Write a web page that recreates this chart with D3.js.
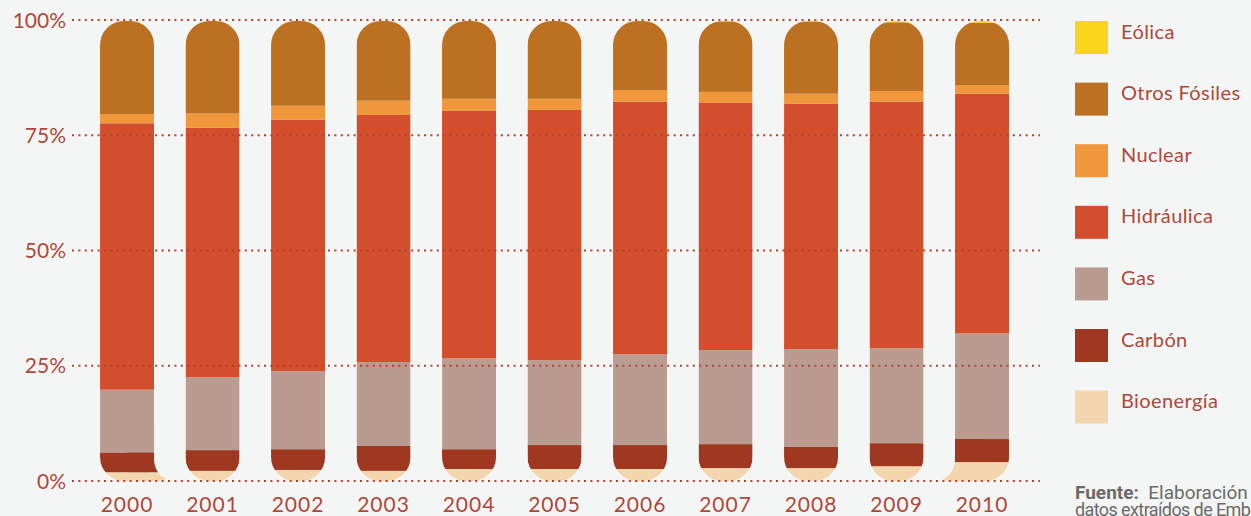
<!DOCTYPE html>
<html>
<head>
<meta charset="utf-8">
<script src="https://cdn.jsdelivr.net/npm/d3@7"></script>
<style>
  html, body { margin: 0; padding: 0; background: #f4f6f6; overflow: hidden; }
  svg { display: block; }
</style>
</head>
<body>
<svg id="chart" width="1251" height="516" viewBox="0 0 1251 516"></svg>
<script>
// --- data (shares of generation, %) ---
const years = ["2000", "2001", "2002", "2003", "2004", "2005", "2006", "2007", "2008", "2009", "2010"];
// stacking order: bottom -> top
const sources = ["Bioenergía", "Carbón", "Gas", "Hidráulica", "Nuclear", "Otros Fósiles", "Eólica"];
const bioenergia   = [1.9, 2.2, 2.4, 2.2, 2.6, 2.6, 2.6, 2.8, 2.8, 3.2, 4.1];
const carbon       = [4.3, 4.5, 4.5, 5.4, 4.3, 5.2, 5.2, 5.2, 4.6, 5.0, 5.0];
const gas          = [13.6, 15.8, 16.9, 18.2, 19.7, 18.4, 19.7, 20.4, 21.2, 20.6, 22.9];
const hidraulica   = [57.8, 54.1, 54.6, 53.6, 53.7, 54.3, 54.8, 53.6, 53.2, 53.5, 52.0];
const nuclear      = [2.0, 3.1, 3.0, 3.1, 2.6, 2.4, 2.5, 2.4, 2.2, 2.3, 1.9];
const otrosFosiles = [20.2, 20.1, 18.4, 17.3, 16.9, 16.9, 15.0, 15.3, 15.7, 14.9, 13.5];
const eolica       = [0.2, 0.2, 0.2, 0.2, 0.2, 0.2, 0.2, 0.3, 0.3, 0.5, 0.6];
const yTicks = [0, 25, 50, 75, 100];
const legendOrder = ["Eólica", "Otros Fósiles", "Nuclear", "Hidráulica", "Gas", "Carbón", "Bioenergía"];

const seriesValues = {
  "Bioenergía": bioenergia, "Carbón": carbon, "Gas": gas, "Hidráulica": hidraulica,
  "Nuclear": nuclear, "Otros Fósiles": otrosFosiles, "Eólica": eolica
};
const colors = {
  "Eólica": "#fbd51b", "Otros Fósiles": "#bc7122", "Nuclear": "#f0973b",
  "Hidráulica": "#d34e2d", "Gas": "#b99b90", "Carbón": "#9e3820", "Bioenergía": "#f4d6ae"
};

const bg = "#f4f6f6";
const textColor = "#b0473a";
const gridColor = "#b5412c";
const labelFont = "Lato, 'Open Sans', sans-serif";

const svg = d3.select("#chart");
svg.append("rect").attr("width", 1251).attr("height", 516).attr("fill", bg);

const table = years.map((yr, i) => {
  const row = { year: yr };
  sources.forEach(s => row[s] = seriesValues[s][i]);
  return row;
});
const stacked = d3.stack().keys(sources)(table);

const x = d3.scaleBand().domain(years).range([84.3, 1024.8]).paddingInner(0.368).paddingOuter(0.184);
const y = d3.scaleLinear().domain([0, 100]).range([481, 20]);
const bw = x.bandwidth();
const rBar = 24;
const footExt = 17;   // first/last bar bottoms spill into the neighbouring gap
const last = years.length - 1;

const defs = svg.append("defs");
years.forEach((yr, i) => {
  defs.append("clipPath").attr("id", "pill-" + i)
    .append("rect")
    .attr("x", x(yr)).attr("y", y(100) + 1)
    .attr("width", bw).attr("height", y(0) - y(100) - 1)
    .attr("rx", rBar).attr("ry", rBar);
});
// foot clips for the edge bars
[[0, 1], [last, -1]].forEach(([i, dir]) => {
  const x0 = dir > 0 ? x(years[i]) + bw / 2 : x(years[i]) - footExt;
  defs.append("clipPath").attr("id", "foot-" + i)
    .append("rect")
    .attr("x", x0).attr("y", y(12))
    .attr("width", bw / 2 + footExt).attr("height", y(0) - y(12))
    .attr("rx", 12).attr("ry", 12);
});

function drawLayers(g, i, x0, w) {
  stacked.forEach(layer => {
    const d = layer[i];
    g.append("rect")
      .attr("x", x0).attr("y", y(d[1]))
      .attr("width", w)
      .attr("height", Math.max(0, y(d[0]) - y(d[1])))
      .attr("fill", colors[layer.key]);
  });
}

const barG = svg.append("g");
// spilled feet (drawn first, then partly hidden by the gap shapes)
drawLayers(barG.append("g").attr("clip-path", "url(#foot-0)"), 0, x(years[0]), bw + footExt);
drawLayers(barG.append("g").attr("clip-path", `url(#foot-${last})`), last, x(years[last]) - footExt, bw + footExt);

// gap shapes next to the edge bars
[[0, 1], [last - 1, last]].forEach(([a, b]) => {
  barG.append("rect")
    .attr("x", x(years[a]) + bw).attr("y", y(100) - 10)
    .attr("width", x(years[b]) - x(years[a]) - bw)
    .attr("height", y(0) - 2 - (y(100) - 10))
    .attr("rx", 20).attr("ry", 20)
    .attr("fill", bg);
});

// bars
years.forEach((yr, i) => {
  drawLayers(barG.append("g").attr("clip-path", `url(#pill-${i})`), i, x(yr), bw);
});

// dotted gridlines
const gridG = svg.append("g");
yTicks.forEach(t => {
  gridG.append("line")
    .attr("x1", 72).attr("x2", 1040)
    .attr("y1", y(t)).attr("y2", y(t))
    .attr("stroke", gridColor).attr("stroke-width", 2)
    .attr("stroke-dasharray", "2,4.4");
});

// y labels
svg.append("g").selectAll("text").data(yTicks).join("text")
  .attr("x", 66).attr("y", d => y(d))
  .attr("dy", "0.36em")
  .attr("text-anchor", "end")
  .attr("fill", textColor)
  .style("font-family", labelFont)
  .style("font-size", "21px")
  .text(d => d + "%");

// x labels
svg.append("g").selectAll("text").data(years).join("text")
  .attr("x", d => x(d) + bw / 2).attr("y", 512)
  .attr("text-anchor", "middle")
  .attr("fill", textColor)
  .style("font-family", labelFont)
  .style("font-size", "21px")
  .style("letter-spacing", "1px")
  .text(d => d);

// legend
const legend = svg.append("g").attr("transform", "translate(1075,21)");
legendOrder.forEach((s, i) => {
  const g = legend.append("g").attr("transform", `translate(0,${i * 61.6})`);
  g.append("rect").attr("width", 33).attr("height", 33).attr("fill", colors[s]);
  g.append("text").attr("x", 46).attr("y", 17.5)
    .attr("fill", textColor)
    .style("font-family", labelFont)
    .style("font-size", "20px")
    .style("letter-spacing", "0.4px")
    .text(s);
});

// source note
const note = svg.append("text").attr("x", 1075).attr("y", 499)
  .attr("fill", "#6a6a6a")
  .style("font-family", "Roboto, sans-serif")
  .style("font-size", "19px");
note.append("tspan").style("font-weight", "bold").text("Fuente:");
note.append("tspan").text("\u00a0 Elaboración propia con");
svg.append("text").attr("x", 1075).attr("y", 516)
  .attr("fill", "#6a6a6a")
  .style("font-family", "Roboto, sans-serif")
  .style("font-size", "18px")
  .style("letter-spacing", "-0.6px")
  .text("datos extraídos de Ember");
</script>
</body>
</html>
